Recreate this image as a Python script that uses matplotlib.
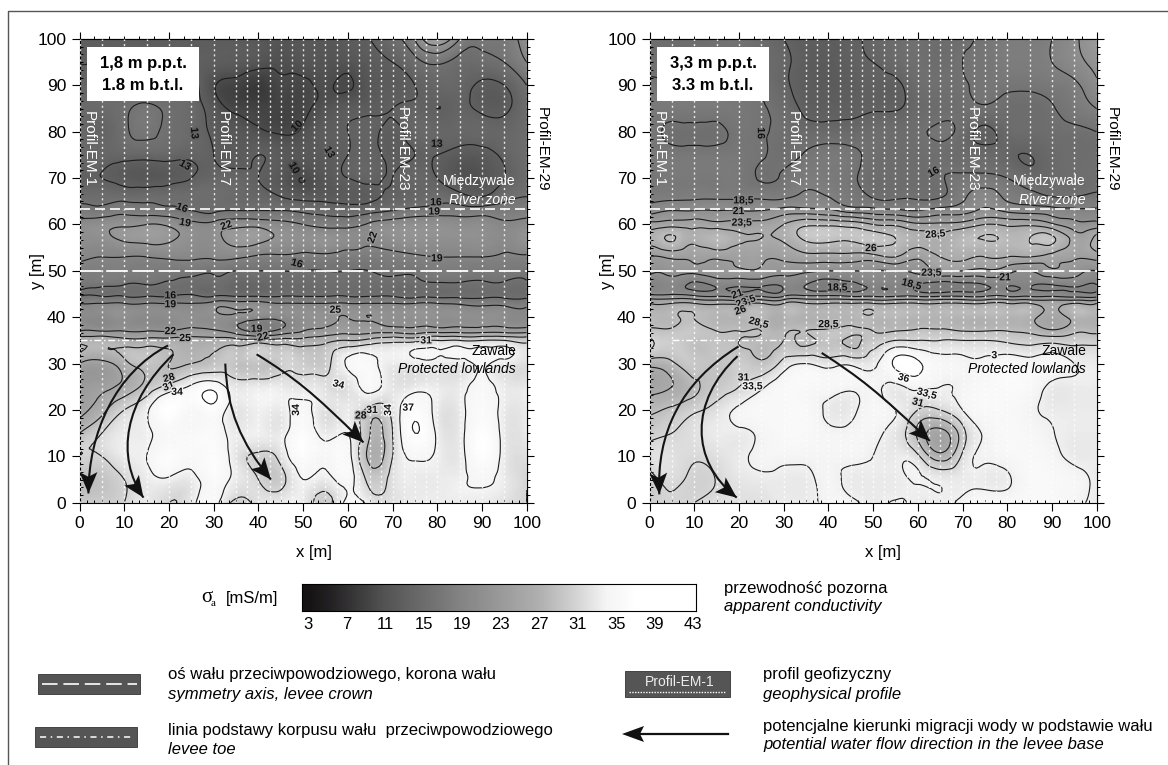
import numpy as np
import matplotlib
matplotlib.use("Agg")
import matplotlib.pyplot as plt
import matplotlib.patches as patches
import matplotlib.tri as mtri
import matplotlib.patheffects as pe
from matplotlib.colors import LinearSegmentedColormap, Normalize
from matplotlib.path import Path
from matplotlib.ticker import MultipleLocator, NullFormatter

plt.rcParams['font.family'] = ['Liberation Sans']

# === DATA ===
x_grid = [0, 5, 10, 15, 20, 25, 30, 35, 40, 45, 50, 55, 60, 65, 70, 75, 80, 85, 90, 95, 100]
y_grid = [100, 95, 90, 85, 80, 75, 70, 66, 63, 60, 57, 53, 50, 47, 44.5, 43, 40, 37, 35, 30, 25, 20, 15, 10, 5, 0]

sigma_left = [
    [12.5, 12.5, 12.5, 12, 12.5, 12.5, 12, 12, 11.5, 11, 11.5, 11.5, 12, 13, 15, 19, 25, 19, 17, 17, 21],
    [13, 13, 13, 13, 13, 13, 12.5, 12, 11, 10.5, 11, 11, 11, 12, 13, 15, 16.5, 15, 15, 16, 19],
    [13.5, 14, 14, 14, 14, 14, 10.3, 9, 8, 9.5, 9.5, 10.3, 9.7, 11.5, 12, 13, 14, 14, 12.5, 13, 16],
    [14.5, 14.5, 15.5, 16.5, 15.5, 14.5, 11.5, 9.5, 9, 9, 9.5, 11, 12, 12.5, 13, 13.5, 13, 13.5, 12.5, 12.5, 15],
    [14.5, 13.5, 15.5, 16.5, 15.5, 14.5, 12.5, 11.5, 10.5, 9.7, 10.5, 12.5, 13, 13.5, 12.5, 14, 14, 14, 14, 14, 15],
    [14.5, 14, 14, 14, 14, 13.5, 13, 12, 13, 12, 11.5, 12, 13, 13.5, 12.5, 13, 13, 12, 12, 13.5, 15],
    [13, 13, 12, 11.5, 12, 13, 14, 14, 13, 11.5, 10, 11.5, 13, 13.5, 13, 14, 13, 11, 11, 13, 15],
    [15, 15, 15, 15, 15, 15, 15, 14.5, 14, 13, 12, 12, 12, 12.5, 13.5, 14, 15, 14, 13, 15, 16],
    [17, 17, 18, 17.5, 17, 16, 15.5, 16, 16, 16, 15.5, 15, 14.5, 15, 16, 17, 17.5, 17.5, 17.5, 17.5, 18],
    [20, 21, 21.5, 22, 21.5, 20, 20, 21, 21, 20, 19, 18, 18, 19.5, 20.5, 21, 21, 20.5, 20.5, 19.5, 20],
    [20.5, 21, 22.5, 23, 22.5, 21, 21, 23, 23, 21.5, 21, 21.5, 20.5, 20, 21, 21.5, 21, 21, 21, 20, 22],
    [19.5, 19, 19, 19, 19.5, 19.5, 19.5, 19.5, 18.5, 18.5, 18, 18, 17.5, 17.5, 18, 18.5, 19, 19, 19, 18.5, 18.5],
    [18, 18, 18, 17.5, 17, 17, 16.5, 16, 16, 16, 16, 16, 16, 16, 16.5, 16.5, 17.5, 17.5, 17, 17, 17],
    [17, 16.5, 16, 16, 15.5, 15, 15, 14, 14, 14.5, 14.5, 15, 15, 15, 15, 15, 15.5, 15.5, 15.5, 15.5, 15.5],
    [16, 16, 16, 16, 16, 16.5, 16, 16, 16, 16, 16, 16, 16, 16, 16, 15.5, 15.5, 15.5, 15.5, 15.5, 15.5],
    [19, 19, 19, 19, 19, 19, 20, 20, 20, 19, 19, 19, 19, 19, 19, 19, 19, 18.5, 18, 18, 18],
    [20, 20, 21, 20, 20.5, 21, 21, 21, 20, 20, 21, 21.5, 22, 22, 21, 21.5, 21, 21, 21, 20.5, 20],
    [22, 22, 22, 22, 22, 23, 22.5, 20.5, 18.5, 20, 22, 23, 24, 24, 24, 23.5, 24, 24, 24, 24, 24],
    [27, 27, 26, 26, 26, 26, 26, 26, 26, 26, 26, 27, 28, 29, 30, 30, 31, 31, 31, 31, 30],
    [25, 24, 27, 29, 28, 28, 29, 29, 29, 30, 30, 30, 34.5, 35, 33, 33, 33, 33, 34.5, 33, 32],
    [23, 24, 26, 29, 32, 34.5, 36, 32.5, 33, 33, 32.5, 32, 32, 35, 32.5, 33, 33, 33, 35, 33, 33],
    [24, 27, 31, 33.5, 37, 35, 36, 32.5, 33.5, 33, 35, 32, 33, 30, 32, 36, 33, 33, 35.5, 33, 33],
    [28, 31, 33, 33.5, 35, 35, 35.5, 33, 33.5, 33, 36, 33, 34, 28, 31, 37, 33.5, 33, 36.5, 33, 33],
    [31, 31, 33, 34, 36, 35, 36, 32.5, 30.5, 32, 36, 34.5, 35, 27, 31, 34.5, 33.5, 33, 36.5, 33, 32],
    [28.5, 29, 31, 33, 33.5, 33, 35.5, 33, 31, 30, 34, 33, 35, 30, 32, 33, 33, 33.5, 34.5, 33, 31],
    [30, 30, 31, 33, 31, 33, 35, 30, 32, 33, 33, 30, 35, 33, 32, 33, 33, 33, 33, 32, 31],
]

sigma_right = [
    [15, 15, 15, 15.5, 16, 15, 13.5, 12.5, 12.5, 13, 14, 15, 15.5, 15, 15.5, 16.5, 17.5, 17.5, 18.5, 20.5, 23],
    [15.5, 15.5, 16, 16, 15.5, 15, 14, 12.5, 12, 13, 13.5, 14.5, 15.5, 15, 16, 16.5, 17.5, 17.5, 18.5, 20, 22],
    [16.5, 16.5, 16.5, 16.5, 16, 15.5, 14, 12.5, 12, 12.5, 13, 13, 15, 15.5, 15.8, 16.5, 16.5, 16.5, 17, 18, 20.5],
    [17, 17, 17, 17, 16.8, 16.2, 15, 13, 12.8, 13, 13.3, 13.3, 14.5, 15, 15.5, 15.6, 15.2, 15, 15.8, 17, 18.5],
    [17, 15.5, 15.5, 15.5, 16.5, 16.2, 15.5, 14.5, 14.5, 14.5, 15, 15, 15.5, 16.4, 15, 13, 14.5, 14.8, 15.2, 15.5, 16],
    [17, 16.8, 16.8, 16.8, 16.8, 16.2, 15.5, 16.3, 17, 16.6, 15.5, 15, 15.2, 15.3, 14.8, 14.5, 14, 13.5, 14.5, 15, 15.5],
    [16.5, 17, 17, 17, 17, 15.8, 16.3, 17.5, 17.2, 16.5, 15, 15, 15, 15.8, 16.5, 16.7, 16, 14.5, 14.5, 15, 15.5],
    [17.5, 17.8, 18, 18, 18, 18, 18, 19, 18.5, 17, 15.8, 15.7, 15.7, 15.8, 18, 19.8, 18, 17, 16, 16, 16.5],
    [20, 21, 21, 21, 21, 21, 22, 22, 21.5, 20, 19.5, 19, 18.5, 19.5, 20, 21.5, 20.5, 20, 19.5, 19, 19],
    [24.5, 25, 25, 24.5, 24.5, 24.5, 26, 28, 28, 27.5, 26, 25.5, 24, 24, 24.5, 26, 25.5, 25.5, 24, 22, 22],
    [27, 28.8, 26.8, 28, 26.5, 26, 26.5, 29, 29.3, 29, 29.5, 28.5, 27, 26.5, 28, 28.6, 28, 28.5, 29, 25, 27],
    [23.5, 24, 24, 24, 24, 24, 24, 25, 25, 25, 25, 26, 24, 26, 26.5, 26, 26, 26, 25, 24, 24.5],
    [22, 22, 22, 22.5, 23, 23, 22, 21.5, 21, 21, 21, 21, 21.5, 23.5, 23.5, 23, 22, 21, 23, 22, 21],
    [18.5, 19.5, 18, 19, 19, 19, 19, 18.5, 17.5, 18, 19, 19, 18.5, 17.5, 18, 18.5, 18.8, 18.8, 18.5, 19, 18.5],
    [22, 22, 21.5, 21, 20.5, 21, 21, 21.5, 21.5, 21, 21, 21, 21, 21, 21, 21, 21, 21, 21, 20.5, 20.5],
    [26, 26, 26, 25.5, 25.5, 26, 26, 26, 26, 26, 26, 26, 26, 26, 26, 26, 26, 26, 25, 26, 26],
    [28, 28, 28.5, 27.5, 27.5, 28, 27, 27, 27.5, 27.5, 28, 28, 27.5, 27.5, 27.5, 27.5, 27.5, 27, 25, 27, 27],
    [29, 29, 29.5, 28.5, 28.5, 28.5, 28, 28.5, 29, 29, 28.5, 28.5, 29, 29, 28.5, 28.5, 28.5, 28, 26.5, 28, 28],
    [31.5, 30, 29, 29, 28.5, 28, 28.5, 28, 29, 28, 29.5, 31, 31, 31, 31, 31, 30.5, 30, 30, 30, 30],
    [27, 28, 29.5, 29, 30, 29, 32, 33.5, 32.5, 33, 33, 36.5, 36.5, 34.5, 34, 34, 35, 34.5, 34.5, 33.5, 33],
    [25, 26, 28, 29.5, 31, 33, 35, 35, 34.5, 34, 34, 33, 34, 33.5, 34, 35, 35.5, 35, 33, 33, 33],
    [28, 29, 30.5, 32, 34, 35, 35, 35, 33, 33, 34.5, 33.5, 31, 31, 33.5, 35, 35, 34, 33, 33, 33],
    [30, 31, 32, 33, 33, 34, 35, 35, 34, 34, 34, 32.5, 28, 25, 30, 33.8, 35, 34.5, 33.6, 33, 33],
    [32, 32, 31.3, 32, 33, 34, 34, 34, 34, 34, 33.5, 33, 31.5, 27, 31.5, 33.8, 34.5, 35, 34.2, 33, 33],
    [30, 31.5, 30.5, 31.1, 32.5, 33, 33, 33, 34, 33, 33, 33, 33.7, 33, 33, 33, 33.2, 35, 35, 34.3, 33],
    [30.5, 30.8, 31, 32, 32, 32, 33, 33, 34, 34, 33, 33.7, 33, 33, 34, 35, 35, 35, 35, 34, 33],
]

levels_left = [10, 13, 16, 19, 22, 25, 28, 31, 34, 37]
levels_right = [13.5, 16, 18.5, 21, 23.5, 26, 28.5, 31, 33.5, 36]

# contour labels: text, level under the label, x, y, rotation
labels_left = [
    ('13', 13, 25.7, 79.7, -85), ('13', 13, 23.6, 72.8, -30), ('13', 13, 55.9, 75.6, -60), ('10', 10, 48.6, 81.2, 45),
    ('10', 10, 48, 72.2, -60), ('13', 13, 79.9, 77.4, 0), ('16', 16, 22.9, 63.6, -20), ('19', 19, 23.6, 60.4, -10),
    ('22', 22, 32.8, 59.8, 20), ('22', 22, 65.5, 57.2, 70), ('16', 16, 48.6, 51.6, -15), ('19', 19, 79.9, 52.7, 0),
    ('16', 16, 79.7, 64.8, 0), ('19', 19, 79.3, 62.8, 0), ('16', 16, 20.3, 44.7, 0), ('19', 19, 20.3, 42.8, 0),
    ('25', 25, 57.2, 41.6, 0), ('19', 19, 39.6, 37.5, 0), ('22', 22, 41, 35.8, 15), ('22', 22, 20.3, 37, 0),
    ('25', 25, 23.6, 35.5, 0), ('31', 31, 77.5, 35, 0), ('28', 28, 20, 26.9, 15), ('31', 31, 19.9, 25.1, 20),
    ('34', 34, 21.8, 23.9, 0), ('34', 34, 57.9, 25.5, -15), ('34', 34, 48.4, 20, 90), ('31', 31, 65.4, 20, 0),
    ('28', 28, 62.9, 18.8, 0), ('34', 34, 69, 20, 90), ('37', 37, 73.5, 20.5, 0),
]
labels_right = [
    ('16', 16, 24.9, 79.7, -90), ('16', 16, 63.5, 71.3, 30), ('18,5', 18.5, 21, 65.2, 0), ('21', 21, 19.9, 62.9, 0),
    ('23,5', 23.5, 20.6, 60.4, 0), ('28,5', 28.5, 63.9, 57.9, 5), ('26', 26, 49.5, 54.9, 0), ('23,5', 23.5, 63, 49.6, 0),
    ('21', 21, 79.5, 48.6, 0), ('18,5', 18.5, 42, 46.4, 0), ('18,5', 18.5, 58.6, 47.1, -15), ('21', 21, 19.6, 45, 20),
    ('23,5', 23.5, 21.5, 43.4, 20), ('26', 26, 20.3, 41.5, 20), ('28,5', 28.5, 24.4, 38.8, -15), ('28,5', 28.5, 40, 38.5, 0),
    ('31', 31, 21, 27, 0), ('33,5', 33.5, 23, 25.1, 0), ('36', 36, 56.8, 26.9, -15), ('33,5', 33.5, 62, 23.5, -15),
    ('31', 31, 60, 21.6, -15), ('3', 33.5, 77.1, 31.8, 0),
]

# flow arrows: bezier control points (start, c1, c2, tip)
arrows_left = [
    [(19.8, 33.9), (8, 28), (2, 15), (2, 2)],
    [(21, 32), (10, 22), (8, 10), (14.3, 1.1)],
    [(32.6, 30), (33, 20), (36, 13), (42.8, 5)],
    [(39.6, 32), (48, 27), (52, 24), (63.5, 13)],
]
arrows_right = [
    [(19.9, 33.7), (7, 26), (1.5, 15), (2.2, 1.8)],
    [(19.7, 31.6), (9, 22), (9, 9), (19.5, 1.1)],
    [(38.5, 32.3), (47, 27), (51, 24), (62.7, 13.3)],
]

profile_lines = [0, 5, 10, 15, 20, 25, 30, 35, 37.5, 40, 42.5, 45, 47.5, 50, 52.5, 55, 57.5, 60, 62.5,
                 65, 67.5, 70, 72.5, 75, 77.5, 80, 85, 90, 95, 100]
bar_ticks = [3, 7, 11, 15, 19, 23, 27, 31, 35, 39, 43]

# gray scale of the conductivity bar
cmap = LinearSegmentedColormap.from_list('sigma', [
    (0.0, '#161314'), (0.05, '#222022'), (0.2, '#555555'), (0.4, '#858585'),
    (0.6, '#b0b0b0'), (0.7, '#d6d6d6'), (0.775, '#f5f5f5'), (0.85, '#ffffff'), (1.0, '#ffffff')])
norm = Normalize(3, 43)

W, H = 1168, 765
fig = plt.figure(figsize=(W / 100, H / 100), dpi=100)


def px_axes(x0, x1, y0, y1):
    return fig.add_axes([x0 / W, 1 - y1 / H, (x1 - x0) / W, (y1 - y0) / H])


# overlay in pixel coordinates for frame and legend
bg = fig.add_axes([0, 0, 1, 1])
bg.set_xlim(0, W)
bg.set_ylim(H, 0)
bg.axis('off')
bg.plot([8, 8, W], [H, 11, 11], color='#555555', lw=1.0)


def add_arrow(ax, pts, length=4.6, width=4.0):
    path = Path(pts, [Path.MOVETO, Path.CURVE4, Path.CURVE4, Path.CURVE4])
    ax.add_patch(patches.PathPatch(path, fc='none', ec='#141414', lw=1.5, zorder=5))
    tip = np.array(pts[-1], dtype=float)
    d = tip - np.array(pts[-2], dtype=float)
    d = d / np.hypot(*d)
    n = np.array([-d[1], d[0]])
    base = tip - d * length
    head = [tip, base + n * width / 2, tip - d * length * 0.78, base - n * width / 2]
    ax.add_patch(patches.Polygon(head, closed=True, fc='#111111', ec='none', zorder=5))


def draw_panel(ax, sigma, levels, labels, arrows, title, dash_end, x_label_pos):
    X, Y = np.meshgrid(x_grid, y_grid)
    tri = mtri.Triangulation(X.ravel(), Y.ravel())
    refiner = mtri.UniformTriRefiner(tri)
    tri2, z2 = refiner.refine_field(np.array(sigma, dtype=float).ravel(), subdiv=3)
    ax.tripcolor(tri2, z2, shading='gouraud', cmap=cmap, norm=norm, rasterized=True)
    ax.tricontour(tri2, z2, levels=levels, colors='#1c1c1c', linewidths=0.8)

    for px in profile_lines:
        ax.plot([px, px], [0, 100], color='white', lw=1.0, ls=(0, (1.5, 2.2)), alpha=0.85, zorder=3)
    ax.plot([0, 100], [63.3, 63.3], color='white', lw=1.2, ls=(0, (6, 3)), zorder=3)
    ax.plot([0, 100], [50, 50], color='white', lw=1.3, ls=(0, (12, 2.5)), zorder=3)
    ax.plot([dash_end[0], dash_end[1]], [35, 35], color='white', lw=1.0, ls=(0, (5, 2, 1, 2)), zorder=3)

    for lab, val, lx, ly, rot in labels:
        ax.text(lx, ly, lab, fontsize=7.5, fontweight='bold', ha='center', va='center',
                rotation=rot, color='#111111', zorder=4,
                path_effects=[pe.withStroke(linewidth=2, foreground=cmap(norm(val)))])

    for pts in arrows:
        add_arrow(ax, pts)

    ax.add_patch(patches.Rectangle((1.7, 86.6), 25, 11.7, facecolor='white', edgecolor='none', zorder=6))
    ax.text(14.2, 94.8, title[0], fontsize=12, fontweight='bold', ha='center', va='center', zorder=7)
    ax.text(14.2, 90, title[1], fontsize=12, fontweight='bold', ha='center', va='center', zorder=7)

    for name, tx, col in [('Profil-EM-1', 2, 'white'), ('Profil-EM-7', 32, 'white'),
                          ('Profil-EM-23', 72, 'white'), ('Profil-EM-29', 103.3, 'black')]:
        ax.text(tx, 76.3, name, rotation=270, fontsize=11, color=col, ha='center', va='center',
                zorder=4, clip_on=False)
    ax.text(97.6, 69.3, 'Międzywale', fontsize=10, color='white', ha='right', va='center', zorder=4)
    ax.text(97.6, 65.2, 'River zone', fontsize=10, color='white', style='italic', ha='right', va='center', zorder=4)
    ax.text(97.6, 32.8, 'Zawale', fontsize=10, color='black', ha='right', va='center', zorder=4)
    ax.text(97.6, 28.9, 'Protected lowlands', fontsize=10, color='black', style='italic', ha='right',
            va='center', zorder=4)

    ax.set_xlim(0, 100)
    ax.set_ylim(0, 100)
    ax.xaxis.set_major_locator(MultipleLocator(10))
    ax.yaxis.set_major_locator(MultipleLocator(10))
    ax.xaxis.set_minor_locator(MultipleLocator(10 / 6))
    ax.yaxis.set_minor_locator(MultipleLocator(10 / 6))
    ax.tick_params(which='major', length=5.5, width=0.8, labelsize=12.5, pad=4)
    ax.tick_params(which='minor', direction='in', length=2, width=0.7)
    ax.set_xlabel('x [m]', fontsize=12, va='center')
    ax.set_ylabel('y [m]', fontsize=12, va='center')
    ax.xaxis.set_label_coords(x_label_pos, -(553 - 502.7) / 463.7)
    ax.yaxis.set_label_coords(-0.095, 0.5)

    top = ax.secondary_xaxis('top')
    top.xaxis.set_major_locator(MultipleLocator(20))
    top.xaxis.set_minor_locator(MultipleLocator(10 / 3))
    top.xaxis.set_major_formatter(NullFormatter())
    top.tick_params(which='major', length=5, width=0.8)
    top.tick_params(which='minor', length=2.5, width=0.7)
    right = ax.secondary_yaxis('right')
    right.yaxis.set_major_locator(MultipleLocator(10))
    right.yaxis.set_minor_locator(MultipleLocator(10 / 6))
    right.yaxis.set_major_formatter(NullFormatter())
    right.tick_params(which='major', length=5, width=0.8)
    right.tick_params(which='minor', length=2.5, width=0.7)


ax1 = px_axes(79.5, 526.7, 39, 502.7)
draw_panel(ax1, sigma_left, levels_left, labels_left, arrows_left, ('1,8 m p.p.t.', '1.8 m b.t.l.'), (0, 50), 0.524)
ax2 = px_axes(649.5, 1096.7, 39, 502.7)
draw_panel(ax2, sigma_right, levels_right, labels_right, arrows_right, ('3,3 m p.p.t.', '3.3 m b.t.l.'), (5, 40), 0.522)

# conductivity bar
cax = px_axes(301.5, 696, 584, 611)
grad = np.linspace(2.3, 43.3, 400)[None, :]
cax.imshow(grad, extent=[2.3, 43.3, 0, 1], aspect='auto', cmap=cmap, norm=norm)
cax.set_yticks([])
cax.set_xticks(bar_ticks)
cax.tick_params(length=0, labelsize=12, pad=4)
for s in cax.spines.values():
    s.set_linewidth(0.8)

bg.text(201, 598, 'σ', family='Liberation Serif', fontsize=15, va='center', ha='left')
bg.text(211, 604, 'a', family='Liberation Serif', fontsize=8, va='center', ha='left')
bg.text(278, 598, '[mS/m]', fontsize=12, va='center', ha='right')
bg.text(724, 588, 'przewodność pozorna', fontsize=12, va='center')
bg.text(724, 607, 'apparent conductivity', fontsize=12, style='italic', va='center')

# legend
swatch = '#555555'
bg.add_patch(patches.Rectangle((38, 674), 102, 20, fc=swatch, ec='#333333', lw=0.6))
bg.plot([42, 137], [684, 684], color='#e6e6e6', lw=1.4, ls=(0, (8, 3)))
bg.add_patch(patches.Rectangle((35, 727), 102, 20, fc=swatch, ec='#333333', lw=0.6))
bg.plot([40, 133], [737, 737], color='white', lw=1.1, ls=(0, (4, 3, 1, 3)))
bg.add_patch(patches.Rectangle((625, 671), 105, 26, fc=swatch, ec='#333333', lw=0.6))
bg.text(680, 682, 'Profil-EM-1', color='#eeeeee', fontsize=10, ha='center', va='center')
bg.plot([629, 726], [692, 692], color='white', lw=1.0, ls=(0, (1, 1)))
bg.plot([640, 728], [734, 734], color='#111111', lw=1.6)
bg.add_patch(patches.Polygon([(622, 734), (644, 726), (640, 734), (644, 742)], closed=True, fc='#111111', ec='none'))

legend_text = [
    (168, 675, 'oś wału przeciwpowodziowego, korona wału', 'normal'),
    (168, 694, 'symmetry axis, levee crown', 'italic'),
    (168, 730, 'linia podstawy korpusu wału  przeciwpowodziowego', 'normal'),
    (168, 749, 'levee toe', 'italic'),
    (763, 675, 'profil geofizyczny', 'normal'),
    (763, 694, 'geophysical profile', 'italic'),
    (763, 726, 'potencjalne kierunki migracji wody w podstawie wału', 'normal'),
    (763, 745, 'potential water flow direction in the levee base', 'italic'),
]
for tx, ty, s, st in legend_text:
    bg.text(tx, ty, s, fontsize=12, style=st, va='center')

fig.savefig('out.png', dpi=100, facecolor='white')
